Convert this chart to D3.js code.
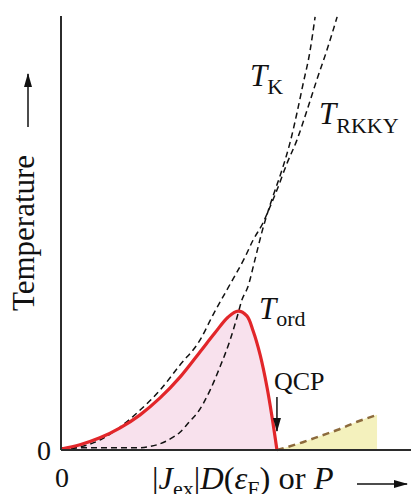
<!DOCTYPE html>
<html>
<head>
<meta charset="utf-8">
<script src="https://cdn.jsdelivr.net/npm/d3@7"></script>
<style>
  body { margin: 0; background: #fff; }
  text { font-family: "Liberation Serif", "Times New Roman", serif; fill: #111; }
</style>
</head>
<body>
<div id="chart"></div>
<script>
// Values, in arbitrary units (x: coupling / pressure, y: temperature)

var tOrdX = [0, 0.54, 1.11, 1.69, 2.26, 2.83, 3.4, 3.97, 4.4, 4.77, 5.06, 5.31, 5.49, 5.69, 5.89, 6.03, 6.17];
var tOrdY = [0.02, 0.12, 0.28, 0.51, 0.81, 1.2, 1.68, 2.26, 2.7, 3.06, 3.2, 3.09, 2.74, 2.19, 1.43, 0.76, 0];

var tRkkyX = [0, 0.54, 1.11, 1.69, 2.26, 2.83, 3.4, 3.97, 4.34, 4.74, 5.26, 5.49, 5.77, 5.97, 6.17, 6.46, 6.74, 7.03, 7.31, 7.6, 7.89];
var tRkkyY = [0, 0.07, 0.23, 0.53, 0.92, 1.38, 1.96, 2.53, 3.11, 3.69, 4.45, 4.84, 5.23, 5.6, 5.99, 6.61, 7.14, 7.83, 8.53, 9.22, 9.98];

var tKX = [0, 1.11, 2.17, 2.74, 3.11, 3.4, 3.69, 3.89, 4.26, 4.54, 4.83, 5.03, 5.17, 5.34, 5.54, 5.74, 5.97, 6.14, 6.34, 6.54, 6.74, 6.91, 7.11, 7.26];
var tKY = [0.05, 0.05, 0.05, 0.12, 0.25, 0.41, 0.67, 0.85, 1.38, 1.91, 2.53, 3.06, 3.46, 3.76, 4.38, 5.02, 5.64, 6.04, 6.52, 7.07, 7.76, 8.41, 9.17, 9.98];

var nflX = [6.17, 6.91, 7.4, 7.89, 8.46, 9.03];
var nflY = [0, 0.18, 0.32, 0.46, 0.65, 0.81];

var qcpX = 6.17;

// Chart area
var svgWidth = 411;
var svgHeight = 494;
var margin = { top: 16, right: 0, bottom: 44, left: 61 };
var chartWidth = svgWidth - margin.left - margin.right;
var chartHeight = svgHeight - margin.top - margin.bottom;

var svg = d3.select("#chart")
  .append("svg")
  .attr("width", svgWidth)
  .attr("height", svgHeight);

var defs = svg.append("defs");
defs.append("marker")
  .attr("id", "head")
  .attr("viewBox", "0 0 14 10")
  .attr("refX", 13)
  .attr("refY", 5)
  .attr("markerWidth", 14)
  .attr("markerHeight", 10)
  .attr("markerUnits", "userSpaceOnUse")
  .attr("orient", "auto")
  .append("path")
  .attr("d", "M0,1 L14,5 L0,9 Z")
  .attr("fill", "#111");

var chartGroup = svg.append("g")
  .attr("transform", `translate(${margin.left}, ${margin.top})`);

var xScale = d3.scaleLinear().domain([0, 10]).range([0, chartWidth]);
var yScale = d3.scaleLinear().domain([0, 10]).range([chartHeight, 0]);

function pts(xs, ys) {
  return xs.map(function(d, i) { return [d, ys[i]]; });
}

var line = d3.line()
  .x(function(d) { return xScale(d[0]); })
  .y(function(d) { return yScale(d[1]); })
  .curve(d3.curveMonotoneX);

var smooth = d3.line()
  .x(function(d) { return xScale(d[0]); })
  .y(function(d) { return yScale(d[1]); })
  .curve(d3.curveCatmullRom.alpha(0.5));

var area = d3.area()
  .x(function(d) { return xScale(d[0]); })
  .y0(yScale(0))
  .y1(function(d) { return yScale(d[1]); });

// Filled phases
chartGroup.append("path")
  .attr("d", area.curve(d3.curveCatmullRom.alpha(0.5))(pts(tOrdX, tOrdY)))
  .attr("fill", "#f8e1ed");

chartGroup.append("path")
  .attr("d", area.curve(d3.curveMonotoneX)(pts(nflX, nflY)))
  .attr("fill", "#f4f1bd");

// Dashed crossover lines
chartGroup.append("path")
  .attr("d", line(pts(tRkkyX, tRkkyY)))
  .attr("fill", "none")
  .attr("stroke", "#111")
  .attr("stroke-width", 1.5)
  .attr("stroke-dasharray", "6,4");

chartGroup.append("path")
  .attr("d", line(pts(tKX, tKY)))
  .attr("fill", "none")
  .attr("stroke", "#111")
  .attr("stroke-width", 1.5)
  .attr("stroke-dasharray", "6,4");

chartGroup.append("path")
  .attr("d", line(pts(nflX, nflY)))
  .attr("fill", "none")
  .attr("stroke", "#8c6a3c")
  .attr("stroke-width", 2.5)
  .attr("stroke-dasharray", "7,5");

// Ordering temperature
chartGroup.append("path")
  .attr("d", smooth(pts(tOrdX, tOrdY)))
  .attr("fill", "none")
  .attr("stroke", "#e2262a")
  .attr("stroke-width", 3.2);

// Axes (plain lines, no ticks)
chartGroup.append("line")
  .attr("x1", 0).attr("x2", chartWidth)
  .attr("y1", chartHeight).attr("y2", chartHeight)
  .attr("stroke", "#2b2b2b").attr("stroke-width", 2);

chartGroup.append("line")
  .attr("x1", 0).attr("x2", 0)
  .attr("y1", 0).attr("y2", chartHeight)
  .attr("stroke", "#2b2b2b").attr("stroke-width", 2);

// Zero labels
chartGroup.append("text")
  .attr("x", -10).attr("y", chartHeight + 10)
  .attr("text-anchor", "end")
  .attr("font-size", 28)
  .text("0");

chartGroup.append("text")
  .attr("x", 1).attr("y", chartHeight + 37)
  .attr("text-anchor", "middle")
  .attr("font-size", 28)
  .text("0");

// Y title + arrow
svg.append("text")
  .attr("transform", "translate(34, 233) rotate(-90)")
  .attr("text-anchor", "middle")
  .attr("font-size", 31)
  .text("Temperature");

svg.append("line")
  .attr("x1", 28).attr("x2", 28)
  .attr("y1", 127).attr("y2", 74)
  .attr("stroke", "#111").attr("stroke-width", 1.5)
  .attr("marker-end", "url(#head)");

// X title + arrow
var xt = svg.append("text")
  .attr("x", 152).attr("y", 489)
  .attr("font-size", 32.5);
xt.append("tspan").text("|");
xt.append("tspan").attr("font-style", "italic").text("J");
xt.append("tspan").attr("font-size", 22).attr("dy", 7).text("ex");
xt.append("tspan").attr("dy", -7).text("|");
xt.append("tspan").attr("font-style", "italic").text("D");
xt.append("tspan").text("(");
xt.append("tspan").attr("font-style", "italic").text("ε");
xt.append("tspan").attr("font-size", 22).attr("dy", 7).text("F");
xt.append("tspan").attr("dy", -7).text(") or ");
xt.append("tspan").attr("font-style", "italic").text("P");

svg.append("line")
  .attr("x1", 357).attr("x2", 407)
  .attr("y1", 484).attr("y2", 484)
  .attr("stroke", "#111").attr("stroke-width", 1.5)
  .attr("marker-end", "url(#head)");

// Curve labels
function tLabel(x, y, sub, subDy) {
  var t = svg.append("text").attr("x", x).attr("y", y).attr("font-size", 31);
  t.append("tspan").attr("font-style", "italic").text("T");
  t.append("tspan").attr("font-size", 22).attr("dy", subDy).text(sub);
}
tLabel(250, 86, "K", 8);
tLabel(319, 124, "RKKY", 9);
tLabel(259, 319, "ord", 7);

// QCP
svg.append("text")
  .attr("x", 274).attr("y", 390)
  .attr("font-size", 26)
  .text("QCP");

svg.append("line")
  .attr("x1", margin.left + xScale(qcpX)).attr("x2", margin.left + xScale(qcpX))
  .attr("y1", 397).attr("y2", 431)
  .attr("stroke", "#111").attr("stroke-width", 1.5)
  .attr("marker-end", "url(#head)");
</script>
</body>
</html>
